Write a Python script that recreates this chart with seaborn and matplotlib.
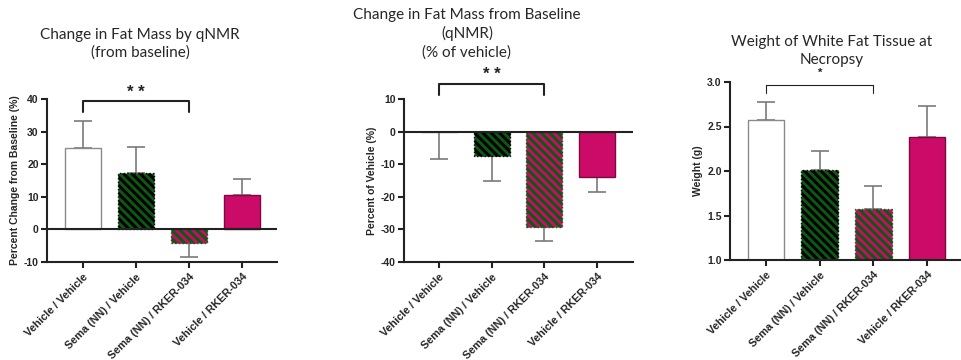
import matplotlib
matplotlib.use("Agg")
import matplotlib.pyplot as plt
import seaborn as sns
import pandas as pd
import numpy as np

sns.set_style("ticks")
plt.rcParams['font.family'] = ['Liberation Sans', 'DejaVu Sans']
plt.rcParams['hatch.linewidth'] = 2.2

groups = ['Vehicle / Vehicle', 'Sema (NN) / Vehicle', 'Sema (NN) / RKER-034', 'Vehicle / RKER-034']

# panel 1: change in fat mass from baseline (%)
fat_change = [25.0, 17.3, -4.3, 10.7]
fat_change_err = [8.3, 7.9, 4.3, 4.8]
# panel 2: % of vehicle
pct_vehicle = [0.0, -7.5, -29.2, -14.0]
pct_vehicle_err = [8.4, 7.8, 4.3, 4.6]
# panel 3: white fat weight (g)
wat_weight = [2.57, 2.01, 1.57, 2.38]
wat_weight_err = [0.21, 0.21, 0.26, 0.35]

green = '#0b5a12'
magenta = '#cc0a68'
faces = ['white', green, magenta, magenta]
edges = ['#8a8a8a', 'black', green, '#7a0a40']
hatches = [None, '\\\\\\\\', '\\\\\\\\', None]

fig = plt.figure(figsize=(9.61, 3.60), dpi=100)
W, H = 961, 360


def px_axes(x0, ytop, x1, ybot):
    return fig.add_axes([x0 / W, (H - ybot) / H, (x1 - x0) / W, (ybot - ytop) / H])


def draw(ax, vals, errs, ylim, xlim, yticks, ylabel, fmt, err_down=False):
    df = pd.DataFrame({'group': groups, 'value': vals})
    sns.barplot(data=df, x='group', y='value', ax=ax, width=0.68, errorbar=None,
                color='white', zorder=2)
    for p, fc, ec, h in zip(ax.patches, faces, edges, hatches):
        p.set_facecolor(fc)
        p.set_edgecolor(ec)
        p.set_linewidth(1.0)
        if h:
            p.set_hatch(h)
            p.set_linestyle(':')
    # one-sided error bars, pointing away from the baseline
    v = np.array(vals)
    e = np.array(errs)
    down = (v < 0) | err_down
    lower = np.where(down, e, 0)
    upper = np.where(down, 0, e)
    ax.errorbar(np.arange(len(groups)), v, yerr=[lower, upper], fmt='none',
                ecolor='#7a7a7a', elinewidth=1.2, capsize=6.5, capthick=1.2, zorder=1)
    ax.set_ylim(*ylim)
    ax.set_xlim(*xlim)
    ax.set_yticks(yticks)
    ax.set_yticklabels([fmt.format(t) for t in yticks], fontsize=7.5, fontweight='bold')
    ax.set_xticks(range(len(groups)))
    ax.set_xticklabels(groups, rotation=45, ha='right', rotation_mode='anchor',
                       fontsize=7.8, fontweight='bold')
    ax.set_xlabel('')
    ax.set_ylabel(ylabel, fontsize=7.5, fontweight='bold', labelpad=3)
    ax.tick_params(axis='both', direction='out', length=4, width=1.5, pad=2, color='#222222')
    ax.tick_params(axis='x', pad=3)
    for s in ['top', 'right']:
        ax.spines[s].set_visible(False)
    for s in ['left', 'bottom']:
        ax.spines[s].set_linewidth(1.5)
        ax.spines[s].set_color('#222222')
    if ylim[0] < 0 < ylim[1]:
        ax.axhline(0, color='#222222', lw=1.5, zorder=3)


def bracket(ax, x0, x1, ylow, yhigh, ytext, label, lw, fs):
    ax.plot([x0, x0, x1, x1], [ylow, yhigh, yhigh, ylow], color='#222222', lw=lw,
            clip_on=False)
    ax.text((x0 + x1) / 2, ytext, label, ha='center', va='center', fontsize=fs,
            fontweight='bold', color='#222222', clip_on=False)


ax1 = px_axes(47, 99, 277, 262)
draw(ax1, fat_change, fat_change_err, (-10, 40), (-0.68, 3.66), [-10, 0, 10, 20, 30, 40],
     'Percent Change from Baseline (%)', '{:.0f}')
bracket(ax1, 0, 2, 36, 39.3, 42.0, '* *', 1.5, 12)

ax2 = px_axes(404, 99, 633, 262)
draw(ax2, pct_vehicle, pct_vehicle_err, (-40, 10), (-0.66, 3.68), [-40, -30, -20, -10, 0, 10],
     'Percent of Vehicle (%)', '{:.0f}', err_down=True)
bracket(ax2, 0, 2, 11.2, 14.6, 17.5, '* *', 1.5, 12)

ax3 = px_axes(730, 82, 961, 260)
draw(ax3, wat_weight, wat_weight_err, (1.0, 3.0), (-0.67, 3.63), [1.0, 1.5, 2.0, 2.5, 3.0],
     'Weight (g)', '{:.1f}')
bracket(ax3, 0, 2, 2.88, 2.966, 3.1, '*', 0.8, 8)

title_font = ['Lato', 'DejaVu Sans']
fig.text(140 / W, 1 - 44 / H, 'Change in Fat Mass by qNMR\n(from baseline)', ha='center',
         va='center', fontsize=11, family=title_font, linespacing=1.35)
fig.text(467 / W, 1 - 34 / H, 'Change in Fat Mass from Baseline\n(qNMR)\n(% of vehicle)',
         ha='center', va='center', fontsize=11, family=title_font, linespacing=1.35)
fig.text(832 / W, 1 - 51 / H, 'Weight of White Fat Tissue at\nNecropsy', ha='center',
         va='center', fontsize=11, family=title_font, linespacing=1.35)

fig.savefig('out.png', dpi=100)
